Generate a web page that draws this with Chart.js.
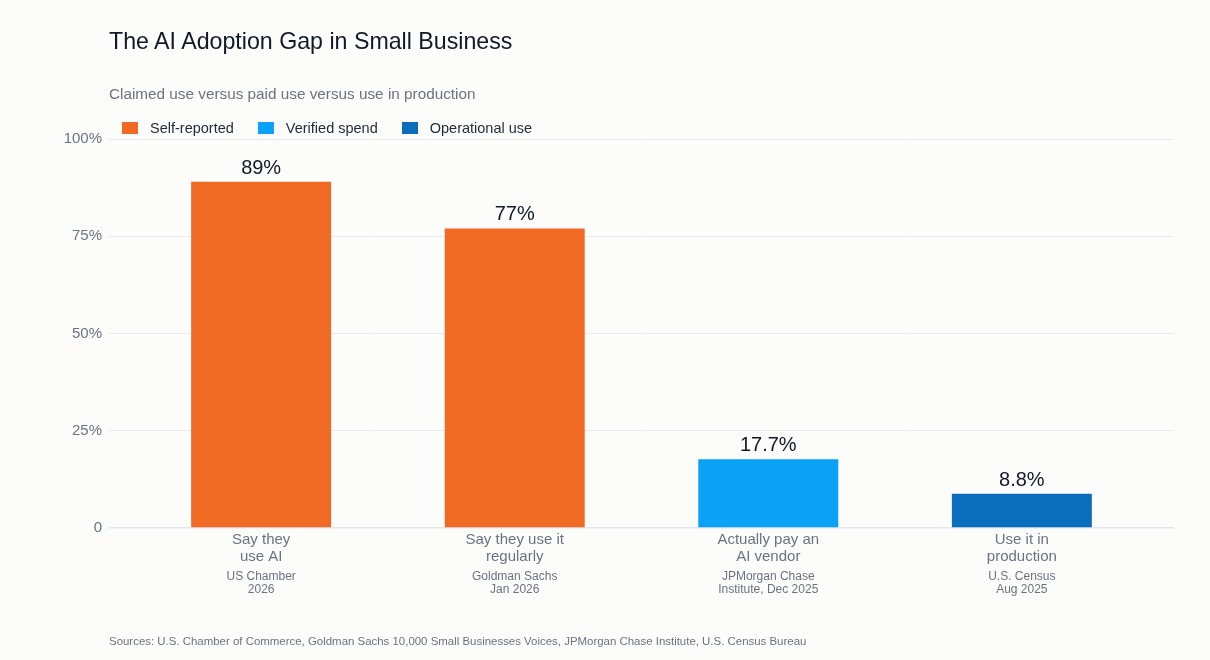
<!DOCTYPE html>
<html>
<head>
<meta charset="utf-8">
<title>The AI Adoption Gap in Small Business</title>
<script src="https://cdn.jsdelivr.net/npm/chart.js@4.4.1/dist/chart.umd.min.js"></script>
<style>
  html, body { margin: 0; padding: 0; background: #fcfcfa; }
  body { width: 1210px; height: 660px; position: relative; overflow: hidden; font-family: "Liberation Sans", Arial, sans-serif; }
  #chart-wrap { position: absolute; left: 0; top: 0; width: 1210px; height: 660px; }
  .title { position: absolute; left: 109px; top: 30px; font-size: 23.2px; line-height: 23.2px; color: #111827; white-space: nowrap; }
  .subtitle { position: absolute; left: 109px; top: 86px; font-size: 15.3px; line-height: 15.3px; color: #6b7280; white-space: nowrap; }
  #legend { position: absolute; left: 122px; top: 121px; display: flex; font-size: 14.5px; line-height: 14.5px; color: #1f2937; white-space: nowrap; }
  #legend .item { display: flex; align-items: center; margin-right: 24px; }
  #legend .box { width: 16px; height: 12px; margin-right: 12px; }
  .footer { position: absolute; left: 109px; top: 636px; font-size: 11.45px; line-height: 11.45px; color: #6b7280; white-space: nowrap; }
</style>
</head>
<body>
<div id="chart-wrap"><canvas id="adoptionChart"></canvas></div>
<div class="title">The AI Adoption Gap in Small Business</div>
<div class="subtitle">Claimed use versus paid use versus use in production</div>
<div id="legend"></div>
<div class="footer">Sources: U.S. Chamber of Commerce, Goldman Sachs 10,000 Small Businesses Voices, JPMorgan Chase Institute, U.S. Census Bureau</div>

<script>
// Data
const categories = [
  ["Say they", "use AI"],
  ["Say they use it", "regularly"],
  ["Actually pay an", "AI vendor"],
  ["Use it in", "production"]
];
const sources = [
  ["US Chamber", "2026"],
  ["Goldman Sachs", "Jan 2026"],
  ["JPMorgan Chase", "Institute, Dec 2025"],
  ["U.S. Census", "Aug 2025"]
];
const seriesNames = ["Self-reported", "Verified spend", "Operational use"];
const selfReported = [89, 77, null, null];
const verifiedSpend = [null, null, 17.7, null];
const operationalUse = [null, null, null, 8.8];
const yTicks = [0, 25, 50, 75, 100];

const seriesColors = ["#f06a23", "#0aa2f7", "#0b6ebc"];
const FONT = '"Liberation Sans", Arial, sans-serif';

// Legend (HTML)
const legendEl = document.getElementById("legend");
seriesNames.forEach((name, i) => {
  const item = document.createElement("div");
  item.className = "item";
  item.innerHTML = `<span class="box" style="background:${seriesColors[i]}"></span><span>${name}</span>`;
  legendEl.appendChild(item);
});

// Value labels above bars
const valueLabels = {
  id: "valueLabels",
  afterDatasetsDraw(chart) {
    const ctx = chart.ctx;
    ctx.save();
    ctx.font = "20px " + FONT;
    ctx.fillStyle = "#111827";
    ctx.textAlign = "center";
    ctx.textBaseline = "alphabetic";
    chart.data.datasets.forEach((ds, di) => {
      chart.getDatasetMeta(di).data.forEach((bar, i) => {
        if (ds.data[i] == null) return;
        ctx.fillText(ds.data[i] + "%", bar.x, bar.y - 8);
      });
    });
    ctx.restore();
  }
};

// Source lines under the category labels
const sourceLabels = {
  id: "sourceLabels",
  afterDraw(chart) {
    const ctx = chart.ctx;
    const x = chart.scales.x;
    ctx.save();
    ctx.font = "12px " + FONT;
    ctx.fillStyle = "#6b7280";
    ctx.textAlign = "center";
    ctx.textBaseline = "alphabetic";
    sources.forEach((lines, i) => {
      const px = x.getPixelForValue(i);
      lines.forEach((line, j) => {
        ctx.fillText(line, px, chart.chartArea.bottom + 52 + j * 13.3);
      });
    });
    ctx.restore();
  }
};

const ctx = document.getElementById("adoptionChart").getContext("2d");
const adoptionChart = new Chart(ctx, {
  type: "bar",
  data: {
    labels: categories,
    datasets: [
      { label: seriesNames[0], data: selfReported, backgroundColor: seriesColors[0] },
      { label: seriesNames[1], data: verifiedSpend, backgroundColor: seriesColors[1] },
      { label: seriesNames[2], data: operationalUse, backgroundColor: seriesColors[2] }
    ]
  },
  options: {
    responsive: true,
    maintainAspectRatio: false,
    animation: false,
    skipNull: true,
    categoryPercentage: 1,
    barPercentage: 0.552,
    layout: { padding: { left: 59, right: 36, top: 139, bottom: 62 } },
    plugins: {
      legend: { display: false },
      tooltip: { enabled: false }
    },
    scales: {
      x: {
        grid: { display: false },
        border: { display: false },
        ticks: {
          color: "#6b7280",
          padding: -4,
          font: { family: FONT, size: 15, lineHeight: 1.1 },
          maxRotation: 0
        },
        // a bit more room on both sides than the default half category
        afterBuildTicks: s => { s._startValue = -0.6; s._valueRange = 4.2; },
        afterFit: s => { s.height = 70; }
      },
      y: {
        min: 0,
        max: 100,
        afterBuildTicks: s => { s.ticks = yTicks.map(v => ({ value: v })); },
        afterFit: s => { s.width = 50; },
        border: { display: false },
        grid: {
          drawTicks: false,
          color: c => c.tick && c.tick.value === 0 ? "#e2e6ee" : "#e7eaf0",
          lineWidth: c => c.tick && c.tick.value === 0 ? 1.5 : 1
        },
        ticks: {
          color: "#6b7280",
          padding: 7,
          font: { family: FONT, size: 15 },
          callback: v => v === 0 ? "0" : v + "%"
        }
      }
    }
  },
  plugins: [valueLabels, sourceLabels]
});
</script>
</body>
</html>
